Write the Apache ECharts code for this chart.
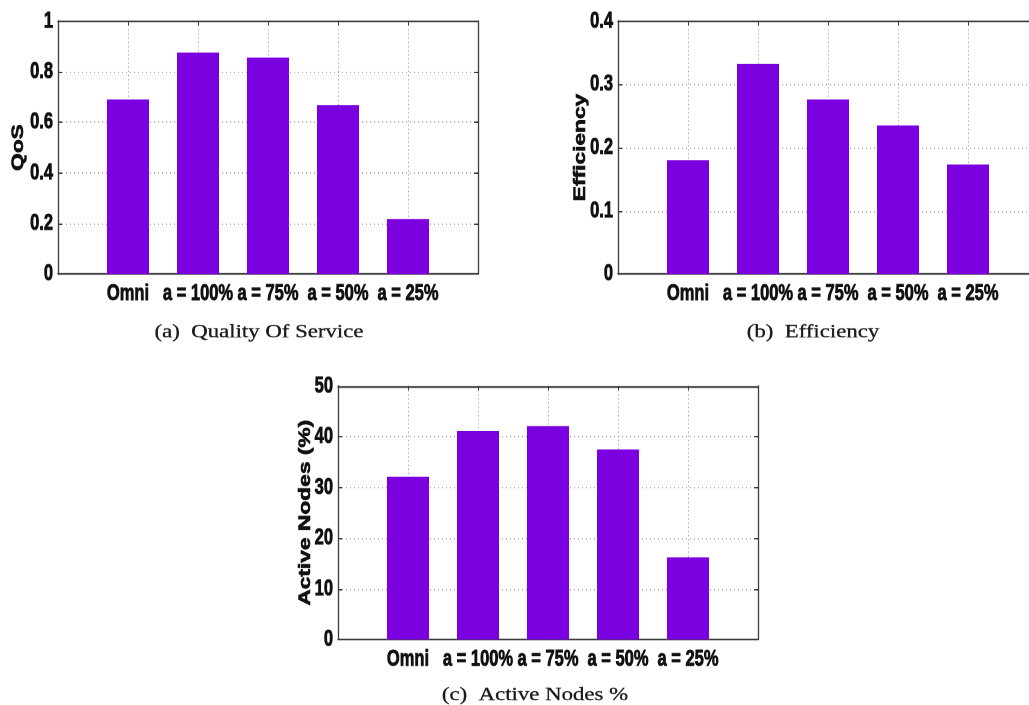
<!DOCTYPE html>
<html>
<head>
<meta charset="utf-8">
<script src="https://cdn.jsdelivr.net/npm/echarts@6/dist/echarts.min.js"></script>
<style>
  html, body { margin: 0; padding: 0; background: #fff; }
  #frame { width: 1029px; height: 705px; overflow: hidden; }
  /* The figure panels are drawn in a vertically compressed space and stretched
     back to full height, which gives the tall, narrow lettering of the plots. */
  #chart { width: 1029px; height: 511px; transform-origin: 0 0; }
</style>
</head>
<body>
<div id="frame"><div id="chart"></div></div>
<script>
// Scheme labels shared by all three panels
const categories = ['Omni', 'a = 100%', 'a = 75%', 'a = 50%', 'a = 25%'];

// (a) Quality of service
const qosValues = [0.69, 0.875, 0.855, 0.668, 0.217];
// (b) Efficiency
const efficiencyValues = [0.180, 0.332, 0.276, 0.235, 0.173];
// (c) Share of active nodes, in percent
const activeNodesValues = [32.1, 41.1, 42.1, 37.5, 16.2];

// y-axis ranges (min, max, step)
const qosAxis = [0, 1, 0.2];
const efficiencyAxis = [0, 0.4, 0.1];
const activeNodesAxis = [0, 50, 10];

const PAGE_H = 705;
const CHART_H = 511;
const STRETCH = PAGE_H / CHART_H;
document.getElementById('chart').style.transform = 'scaleY(' + STRETCH + ')';
const py = v => v / STRETCH;   // page y -> chart y

const BAR_COLOR = '#7b00e0';
const FRAME = '#3c3c3c';
const GRID_LINE = '#a8a8a8';
const INK = '#111';
const SANS = "'Liberation Sans', Arial, Helvetica, sans-serif";
const SERIF = "'Liberation Serif', 'Times New Roman', serif";

// heavy bold lettering used for ticks and axis names
const boldText = {
  fontFamily: SANS, fontWeight: 'bold', fontSize: 16.5, color: INK,
  textBorderColor: INK, textBorderWidth: 0.6
};

const panels = [
  { box: [58, 21, 420, 253], values: qosValues, range: qosAxis,
    name: 'QoS', nameGap: 31, caption: '(a)  Quality Of Service', cap: [259, 332] },
  { box: [618, 21, 420, 253], values: efficiencyValues, range: efficiencyAxis,
    name: 'Efficiency', nameGap: 29, caption: '(b)  Efficiency', cap: [813, 332] },
  { box: [338, 386, 420, 253.5], values: activeNodesValues, range: activeNodesAxis,
    name: 'Active Nodes (%)', nameGap: 24, caption: '(c)  Active Nodes %', cap: [535, 695] }
];

const grids = [], xAxes = [], yAxes = [], series = [], graphics = [];

panels.forEach((p, i) => {
  grids.push({
    left: p.box[0], top: py(p.box[1]), width: p.box[2], height: py(p.box[3]),
    containLabel: false, outerBoundsMode: 'none'
  });
  const frameLine = { show: true, onZero: false, lineStyle: { color: FRAME, width: 1.3 } };
  const xTick = { show: true, inside: true, length: 3, lineStyle: { color: FRAME } };
  const yTick = { show: true, inside: true, length: 4, lineStyle: { color: FRAME } };
  const nCat = categories.length;

  // bottom x axis: schemes sit at 1..5 inside [0, 6]
  xAxes.push({
    type: 'value', gridIndex: i, position: 'bottom', min: 0, max: nCat + 1, interval: 1,
    axisLine: frameLine, axisTick: xTick,
    splitLine: { show: true, lineStyle: { color: GRID_LINE, type: [1, 2], width: 1 } },
    axisLabel: Object.assign({
      margin: 6, showMinLabel: true, showMaxLabel: true,
      formatter: v => categories[v - 1] || ''
    }, boldText)
  });
  // top x axis: closes the frame, ticks only
  xAxes.push({
    type: 'value', gridIndex: i, position: 'top', min: 0, max: nCat + 1, interval: 1,
    axisLine: frameLine, axisTick: xTick, splitLine: { show: false }, axisLabel: { show: false }
  });
  // left y axis
  yAxes.push({
    type: 'value', gridIndex: i, position: 'left', min: p.range[0], max: p.range[1], interval: p.range[2],
    axisLine: frameLine, axisTick: yTick,
    splitLine: { show: true, lineStyle: { color: GRID_LINE, type: [1, 3], width: 1 } },
    axisLabel: Object.assign({ margin: 5 }, boldText),
    name: p.name, nameLocation: 'middle', nameRotate: 90, nameGap: p.nameGap, nameMoveOverlap: false,
    nameTextStyle: Object.assign({}, boldText)
  });
  // right y axis: closes the frame, ticks only
  yAxes.push({
    type: 'value', gridIndex: i, position: 'right', min: p.range[0], max: p.range[1], interval: p.range[2],
    axisLine: frameLine, axisTick: yTick, splitLine: { show: false }, axisLabel: { show: false }
  });

  series.push({
    type: 'bar', xAxisIndex: i * 2, yAxisIndex: i * 2, barWidth: 42,
    itemStyle: { color: BAR_COLOR },
    data: p.values.map((v, k) => [k + 1, v]),
    silent: true, animation: false
  });

  // sub-figure caption, kept at natural proportions
  graphics.push({
    type: 'text', x: p.cap[0], y: py(p.cap[1]), scaleX: 1.2, scaleY: 1 / STRETCH,
    style: {
      text: p.caption, font: '19px ' + SERIF, fill: '#1a1a1a', align: 'center', verticalAlign: 'middle',
      stroke: '#1a1a1a', lineWidth: 0.3
    }
  });
});

const chart = echarts.init(document.getElementById('chart'), null, { renderer: 'canvas', devicePixelRatio: 2 });
chart.setOption({
  backgroundColor: '#ffffff',
  animation: false,
  grid: grids,
  xAxis: xAxes,
  yAxis: yAxes,
  series: series,
  graphic: graphics
});
</script>
</body>
</html>
